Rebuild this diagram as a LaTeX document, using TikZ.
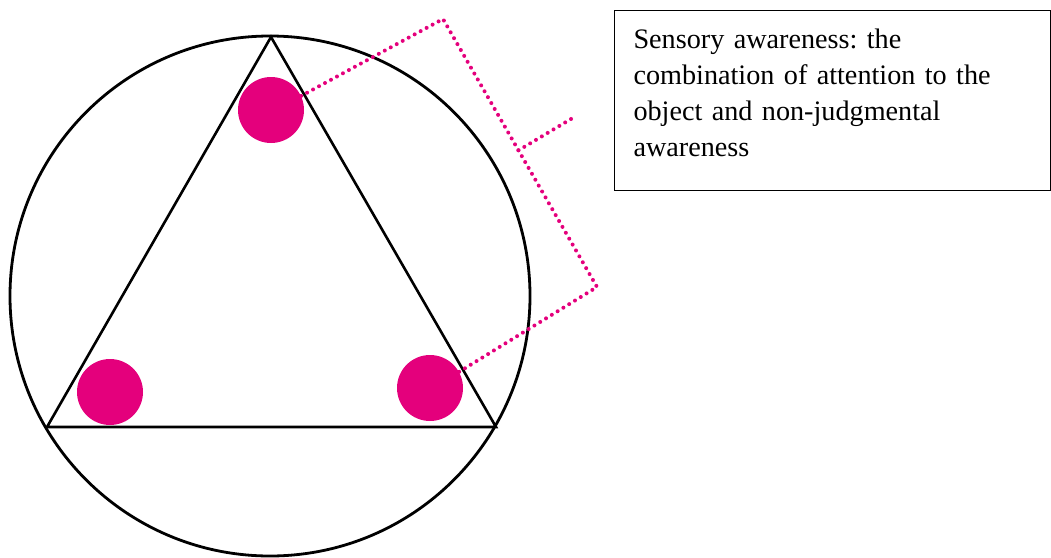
\documentclass[tikz,border=0pt]{standalone}
\usepackage{fontspec}
\setmainfont{Liberation Serif}
\usetikzlibrary{positioning,calc}
\definecolor{dotpink}{HTML}{E4007C}
\frenchspacing

\begin{document}
\begin{tikzpicture}[x=1pt,y=-1pt,
    dotball/.style={circle, fill=dotpink, minimum size=66pt, inner sep=0pt},
    pinkdots/.style={draw=dotpink, line width=4pt, line cap=round, dash pattern=on 0pt off 6.8pt},
    notebox/.style={draw, line width=1pt, anchor=north west, minimum width=436pt, minimum height=180pt,
        inner xsep=19pt, text width=398pt, text depth=124pt, align=left, font=\fontsize{28.2}{36}\selectfont}]
\useasboundingbox (0,0) rectangle (1051,557);

% circle and triangle
\draw[line width=2.8pt] (270,296) circle[radius=260];
\coordinate (apex) at (271,37);
\coordinate (baseL) at (47,427);
\coordinate (baseR) at (496,427);
\draw[line width=2.6pt] (apex) -- (baseL) -- (baseR) -- cycle;

% the three dots
\node[dotball] (topdot) at (271,110) {};
\node[dotball] (leftdot) at (110,392) {};
\node[dotball] (rightdot) at (430,388) {};

% dotted bracket
\coordinate (brackA) at (443,19);
\coordinate (brackB) at (597,287);
\coordinate (tickend) at (576,116);
\draw[pinkdots] (topdot.25) -- (brackA) -- (brackB) -- (rightdot.29);
\draw[pinkdots] ($(brackA)!0.49!(brackB)$) -- (tickend);

% note
\node[notebox] (note) at (614,10) {Sensory awareness: the\\
    combination of attention to the\\
    object and non-judgmental\\
    awareness};
\end{tikzpicture}
\end{document}
